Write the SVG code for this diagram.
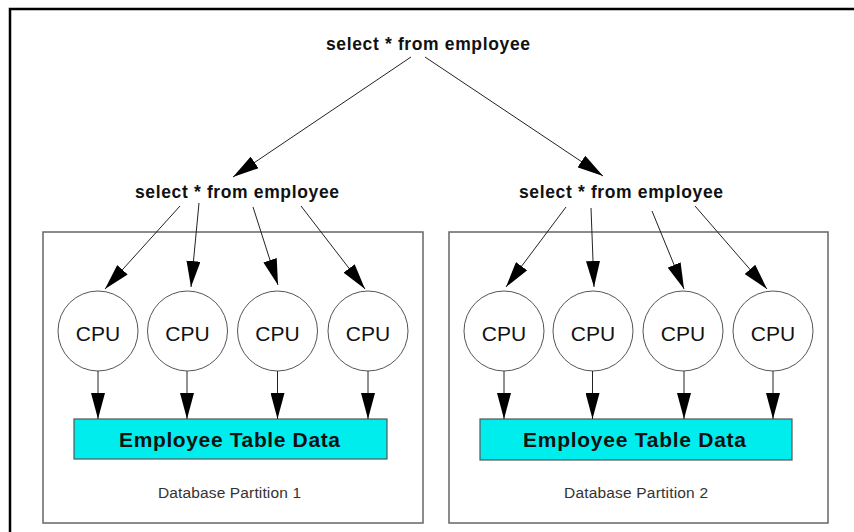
<svg xmlns="http://www.w3.org/2000/svg" width="854" height="532" viewBox="0 0 854 532">
<style>
.frame{fill:none;stroke:#000;stroke-width:2.5}
.part{fill:#fff;stroke:#666;stroke-width:1.5}
.cpu{fill:#fff;stroke:#555;stroke-width:1}
.table{fill:#00eded;stroke:#555;stroke-width:1.2}
.q{font-family:"Liberation Sans",Arial,sans-serif;font-weight:bold;font-size:17.5px;fill:#111}
.cput{font-family:"Liberation Sans",Arial,sans-serif;font-size:21px;fill:#111;text-anchor:middle}
.tt{font-family:"Liberation Sans",Arial,sans-serif;font-weight:bold;font-size:21px;fill:#111}
.pl{font-family:"Liberation Sans",Arial,sans-serif;font-size:15.5px;fill:#333}
.c{fill:none;stroke:#222;stroke-width:1;marker-end:url(#ah)}
</style>
<defs>
<marker id="ah" markerUnits="userSpaceOnUse" markerWidth="26" markerHeight="14" refX="26" refY="7" orient="auto">
<path d="M0,0 L26,7 L0,14 z" fill="#000"/>
</marker>
</defs>
<rect width="854" height="532" fill="#fff"/>
<path class="frame" d="M10,532 V9 H854"/>

<g id="partition1">
<rect class="part" x="43" y="232" width="380" height="291"/>
<text class="pl" x="158" y="498" textLength="143" lengthAdjust="spacing">Database Partition 1</text>
</g>
<g id="partition2">
<rect class="part" x="449" y="232" width="379" height="291"/>
<text class="pl" x="564" y="498" textLength="144" lengthAdjust="spacing">Database Partition 2</text>
</g>

<g id="query-top"><text class="q" x="326" y="50" textLength="204" lengthAdjust="spacing">select * from employee</text></g>
<g id="query-1"><text class="q" x="135" y="198" textLength="204" lengthAdjust="spacing">select * from employee</text></g>
<g id="query-2"><text class="q" x="519" y="198" textLength="204" lengthAdjust="spacing">select * from employee</text></g>

<g id="cpu1-1"><circle class="cpu" cx="98" cy="331" r="40"/><text class="cput" x="98" y="341">CPU</text></g>
<g id="cpu1-2"><circle class="cpu" cx="187.5" cy="331" r="40"/><text class="cput" x="187.5" y="341">CPU</text></g>
<g id="cpu1-3"><circle class="cpu" cx="277.5" cy="331" r="40"/><text class="cput" x="277.5" y="341">CPU</text></g>
<g id="cpu1-4"><circle class="cpu" cx="368" cy="331" r="40"/><text class="cput" x="368" y="341">CPU</text></g>

<g id="cpu2-1"><circle class="cpu" cx="504" cy="331" r="40"/><text class="cput" x="504" y="341">CPU</text></g>
<g id="cpu2-2"><circle class="cpu" cx="593" cy="331" r="40"/><text class="cput" x="593" y="341">CPU</text></g>
<g id="cpu2-3"><circle class="cpu" cx="683" cy="331" r="40"/><text class="cput" x="683" y="341">CPU</text></g>
<g id="cpu2-4"><circle class="cpu" cx="773" cy="331" r="40"/><text class="cput" x="773" y="341">CPU</text></g>

<g id="table1"><rect class="table" x="74" y="419" width="313" height="40"/><text class="tt" x="119" y="447" textLength="221" lengthAdjust="spacing">Employee Table Data</text></g>
<g id="table2"><rect class="table" x="480" y="419" width="312" height="41"/><text class="tt" x="523" y="447" textLength="223" lengthAdjust="spacing">Employee Table Data</text></g>

<g id="connectors">
<line class="c" x1="411" y1="57" x2="233" y2="177"/>
<line class="c" x1="425" y1="57" x2="603" y2="176"/>

<line class="c" x1="180" y1="206" x2="105" y2="289"/>
<line class="c" x1="199" y1="203" x2="191" y2="287"/>
<line class="c" x1="253" y1="207" x2="278" y2="285"/>
<line class="c" x1="301" y1="206" x2="365" y2="289"/>

<line class="c" x1="566" y1="207" x2="506" y2="287"/>
<line class="c" x1="591" y1="208" x2="594" y2="287"/>
<line class="c" x1="652" y1="211" x2="684" y2="289"/>
<line class="c" x1="695" y1="206" x2="767" y2="289"/>

<line class="c" x1="98" y1="371" x2="98" y2="419"/>
<line class="c" x1="187" y1="371" x2="187" y2="419"/>
<line class="c" x1="277.5" y1="371" x2="277.5" y2="419"/>
<line class="c" x1="368" y1="371" x2="368" y2="419"/>

<line class="c" x1="504" y1="371" x2="504" y2="419"/>
<line class="c" x1="592.5" y1="371" x2="592.5" y2="419"/>
<line class="c" x1="684" y1="371" x2="684" y2="419"/>
<line class="c" x1="773" y1="371" x2="773" y2="419"/>
</g>
</svg>
